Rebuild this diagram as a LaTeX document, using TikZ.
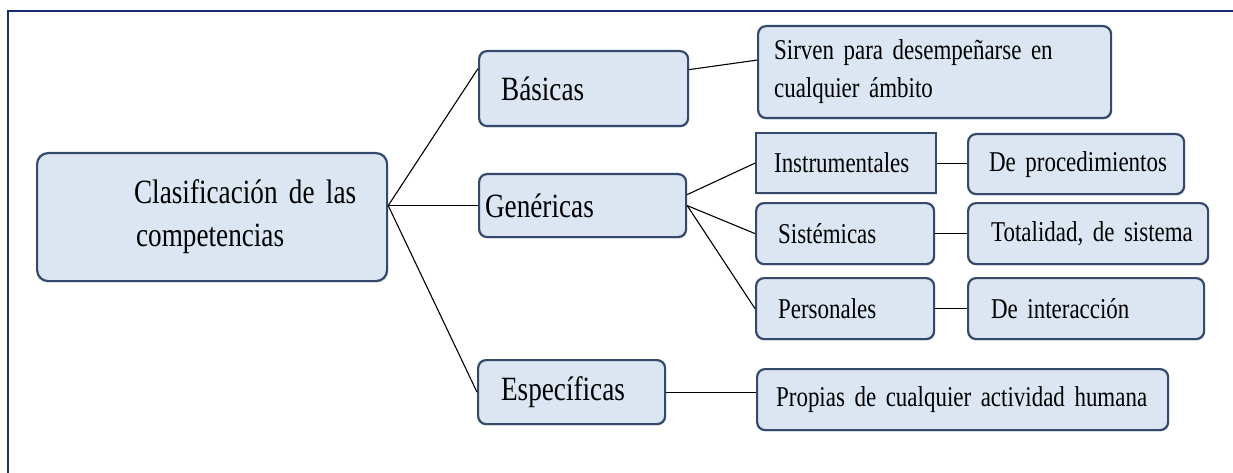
\documentclass[tikz,border=0pt]{standalone}
\usepackage{fontspec}
\setmainfont[FakeStretch=0.8]{Liberation Serif}
\usetikzlibrary{shadows,calc}
\definecolor{boxfill}{HTML}{DCE6F2}
\definecolor{boxline}{HTML}{34496B}
\definecolor{framecol}{HTML}{1A2E6E}
\newcommand{\lvlonefont}{\fontsize{34}{43}\selectfont\setlength{\spaceskip}{6.8pt}}
\newcommand{\lvltwofont}{\fontsize{28.7}{38}\selectfont\setlength{\spaceskip}{5.8pt}}
\tikzset{
  cbox/.style={draw=boxline, line width=2.2pt, fill=boxfill, rounded corners=8pt,
    anchor=north west, inner xsep=0pt, inner ysep=0pt, align=left,
    drop shadow={shadow xshift=1pt, shadow yshift=-1.5pt, opacity=0.2}},
  sqbox/.style={cbox, sharp corners},
  lvlone/.style={font=\lvlonefont},
  lvltwo/.style={font=\lvltwofont},
  conn/.style={draw=black, line width=1.1pt},
}
\newcommand{\ind}[1]{\hspace*{#1pt}}
\begin{document}
\begin{tikzpicture}[x=1pt, y=-1pt]
\useasboundingbox (0,0) rectangle (1233,473);
\clip (0,0) rectangle (1233,473);
\fill[white] (0,0) rectangle (1233,473);
\draw[framecol, line width=2.6pt] (8,520) -- (8,11) -- (1260,11);

% level 0
\node[cbox, lvlone, rounded corners=11pt, minimum width=350, minimum height=128, text width=350] (main) at (36,152)
  {\ind{97}Clasificación de las\\\ind{99}competencias};

% level 1
\node[cbox, lvlone, minimum width=209, minimum height=75, text width=209] (bas) at (478,50) {\ind{22}Básicas};
\node[cbox, lvlone, minimum width=207, minimum height=63, text width=207] (gen) at (478,173) {\ind{6}\raisebox{-5pt}{Genéricas}};
\node[cbox, lvlone, minimum width=187, minimum height=64, text width=187] (esp) at (477,359) {\ind{23}\raisebox{-5pt}{Específicas}};

% level 2
\node[cbox, lvltwo, minimum width=353, minimum height=92, text width=353] (sirv) at (757,25)
  {\ind{16}Sirven para desempeñarse en\\\ind{16}cualquier ámbito};
\node[sqbox, lvltwo, minimum width=180, minimum height=60, text width=180] (instr) at (755,132) {\ind{18}Instrumentales};
\node[cbox, lvltwo, minimum width=178, minimum height=61, text width=178] (sist) at (755,202) {\ind{22}Sistémicas};
\node[cbox, lvltwo, minimum width=178, minimum height=61, text width=178] (pers) at (755,277) {\ind{22}Personales};
\node[cbox, lvltwo, minimum width=411, minimum height=61, text width=411] (prop) at (756,368) {\ind{19}\raisebox{-4pt}{Propias de cualquier actividad humana}};

% level 3
\node[cbox, lvltwo, minimum width=216, minimum height=60, text width=216] (proc) at (967,133) {\ind{21}\raisebox{-4pt}{De procedimientos}};
\node[cbox, lvltwo, minimum width=240, minimum height=61, text width=240] (tot) at (967,202) {\ind{23}Totalidad, de sistema};
\node[cbox, lvltwo, minimum width=236, minimum height=61, text width=236] (inter) at (967,277) {\ind{23}De interacción};

% connectors
\coordinate (mj) at (main.east |- gen.west);
\draw[conn] (mj) -- ([yshift=20pt]bas.west);
\draw[conn] (mj) -- (gen.west);
\draw[conn] (mj) -- (esp.west);
\draw[conn] ([yshift=19pt]bas.east) -- ([yshift=12pt]sirv.west);
\draw[conn] ([yshift=11pt]gen.east) -- (instr.west);
\draw[conn] (gen.east) -- (sist.west);
\draw[conn] (gen.east) -- (pers.west);
\draw[conn] ([yshift=-0.5pt]instr.east) -- ([yshift=-0.5pt]proc.west |- instr.east);
\draw[conn] (sist.east) -- (tot.west |- sist.east);
\draw[conn] (pers.east) -- (inter.west |- pers.east);
\draw[conn] (esp.east) -- (prop.west |- esp.east);
\end{tikzpicture}
\end{document}
